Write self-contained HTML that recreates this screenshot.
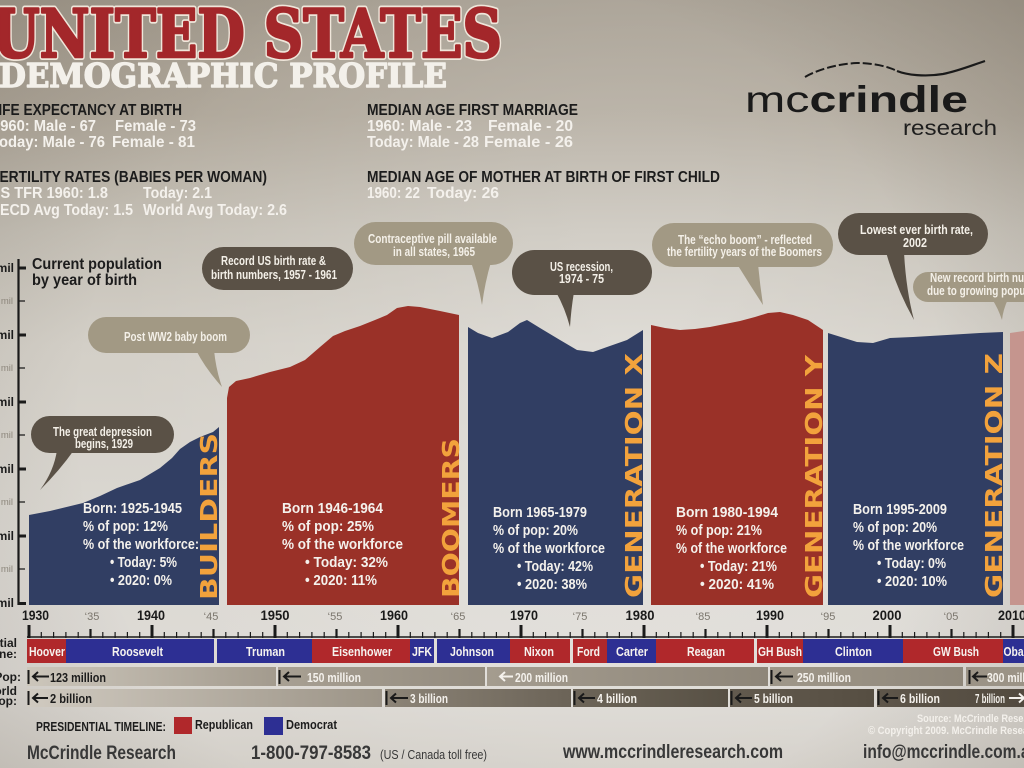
<!DOCTYPE html>
<html>
<head>
<meta charset="utf-8">
<style>
html,body{margin:0;padding:0;width:1024px;height:768px;overflow:hidden;background:#cfcac2;}
svg{display:block;}
.n{font-family:"Liberation Sans Narrow","Liberation Sans",sans-serif;font-weight:700;}
.r{font-family:"Liberation Sans Narrow","Liberation Sans",sans-serif;font-weight:400;}
.s{font-family:"DejaVu Serif","Liberation Serif",serif;font-weight:700;}
.g{font-family:"DejaVu Sans","Liberation Sans",sans-serif;font-weight:700;fill:#f2a23c;font-size:23px;}
.w{fill:#f4f1ec;}
.d{fill:#1c1c1c;}
</style>
</head>
<body>
<svg width="1024" height="768" viewBox="0 0 1024 768" xmlns="http://www.w3.org/2000/svg">
<defs>
<linearGradient id="bg" x1="0" y1="0" x2="0" y2="1">
<stop offset="0" stop-color="#a59d90"/>
<stop offset="0.15" stop-color="#b0a89b"/>
<stop offset="0.3" stop-color="#c5c0b6"/>
<stop offset="0.45" stop-color="#d3cfc7"/>
<stop offset="0.7" stop-color="#dbd8d2"/>
<stop offset="0.88" stop-color="#dedbd6"/>
<stop offset="1" stop-color="#d4d0c9"/>
</linearGradient>
<radialGradient id="hl" cx="640" cy="360" r="520" gradientUnits="userSpaceOnUse">
<stop offset="0" stop-color="#ffffff" stop-opacity="0.28"/>
<stop offset="1" stop-color="#ffffff" stop-opacity="0"/>
</radialGradient>
<radialGradient id="vg" cx="512" cy="420" r="720" gradientUnits="userSpaceOnUse">
<stop offset="0.6" stop-color="#3a3025" stop-opacity="0"/>
<stop offset="1" stop-color="#3a3025" stop-opacity="0.18"/>
</radialGradient>
<linearGradient id="p1" x1="0" x2="1"><stop offset="0" stop-color="#ccc6bb"/><stop offset="1" stop-color="#a39b8e"/></linearGradient>
<linearGradient id="p2" x1="0" x2="1"><stop offset="0" stop-color="#a8a093"/><stop offset="1" stop-color="#938b7e"/></linearGradient>
<linearGradient id="p3" x1="0" x2="1"><stop offset="0" stop-color="#a49c8f"/><stop offset="1" stop-color="#8e8679"/></linearGradient>
<linearGradient id="p4" x1="0" x2="1"><stop offset="0" stop-color="#9f9789"/><stop offset="1" stop-color="#8f877a"/></linearGradient>
<linearGradient id="w1" x1="0" x2="1"><stop offset="0" stop-color="#d0cac0"/><stop offset="1" stop-color="#9c9487"/></linearGradient>
<linearGradient id="w2" x1="0" x2="1"><stop offset="0" stop-color="#8c8477"/><stop offset="1" stop-color="#6b6357"/></linearGradient>
<linearGradient id="w3" x1="0" x2="1"><stop offset="0" stop-color="#6d6558"/><stop offset="1" stop-color="#575044"/></linearGradient>
<linearGradient id="w4" x1="0" x2="1"><stop offset="0" stop-color="#625a4e"/><stop offset="1" stop-color="#564e42"/></linearGradient>
<linearGradient id="w5" x1="0" x2="1"><stop offset="0" stop-color="#5e564a"/><stop offset="1" stop-color="#524a3f"/></linearGradient>
</defs>

<!-- background -->
<rect width="1024" height="768" fill="url(#bg)"/>
<rect width="1024" height="768" fill="url(#hl)"/>
<rect width="1024" height="768" fill="url(#vg)"/>

<!-- Title -->
<text class="s" x="-8" y="57" font-size="66" textLength="510" lengthAdjust="spacingAndGlyphs" fill="#efe6da" stroke="#efe6da" stroke-width="6" stroke-linejoin="round">UNITED STATES</text>
<text class="s" x="-8" y="57" font-size="66" textLength="510" lengthAdjust="spacingAndGlyphs" fill="#a3272a" stroke="#a3272a" stroke-width="2.6" stroke-linejoin="round">UNITED STATES</text>
<text class="s" x="-1" y="87" font-size="33" textLength="448" lengthAdjust="spacingAndGlyphs" fill="#f3f0ea" stroke="#f3f0ea" stroke-width="1.4" stroke-linejoin="round">DEMOGRAPHIC PROFILE</text>

<!-- Stats left -->
<g class="n" font-size="16">
<text class="d" x="-10" y="115" textLength="192" lengthAdjust="spacingAndGlyphs">LIFE EXPECTANCY AT BIRTH</text>
<text class="w" x="-8" y="131" textLength="104" lengthAdjust="spacingAndGlyphs">1960: Male - 67</text>
<text class="w" x="115" y="131" textLength="81" lengthAdjust="spacingAndGlyphs">Female - 73</text>
<text class="w" x="-9" y="147" textLength="114" lengthAdjust="spacingAndGlyphs">Today: Male - 76</text>
<text class="w" x="112" y="147" textLength="83" lengthAdjust="spacingAndGlyphs">Female - 81</text>
<text class="d" x="-9" y="182" textLength="276" lengthAdjust="spacingAndGlyphs">FERTILITY RATES (BABIES PER WOMAN)</text>
<text class="w" x="-10" y="198" textLength="118" lengthAdjust="spacingAndGlyphs">US TFR 1960: 1.8</text>
<text class="w" x="143" y="198" textLength="69" lengthAdjust="spacingAndGlyphs">Today: 2.1</text>
<text class="w" x="-11" y="215" textLength="144" lengthAdjust="spacingAndGlyphs">OECD Avg Today: 1.5</text>
<text class="w" x="143" y="215" textLength="144" lengthAdjust="spacingAndGlyphs">World Avg Today: 2.6</text>

<text class="d" x="367" y="115" textLength="211" lengthAdjust="spacingAndGlyphs">MEDIAN AGE FIRST MARRIAGE</text>
<text class="w" x="367" y="131" textLength="105" lengthAdjust="spacingAndGlyphs">1960: Male - 23</text>
<text class="w" x="488" y="131" textLength="85" lengthAdjust="spacingAndGlyphs">Female - 20</text>
<text class="w" x="367" y="147" textLength="112" lengthAdjust="spacingAndGlyphs">Today: Male - 28</text>
<text class="w" x="484" y="147" textLength="89" lengthAdjust="spacingAndGlyphs">Female - 26</text>
<text class="d" x="367" y="182" textLength="353" lengthAdjust="spacingAndGlyphs">MEDIAN AGE OF MOTHER AT BIRTH OF FIRST CHILD</text>
<text class="w" x="367" y="198" textLength="53" lengthAdjust="spacingAndGlyphs">1960: 22</text>
<text class="w" x="427" y="198" textLength="72" lengthAdjust="spacingAndGlyphs">Today: 26</text>
</g>

<!-- Logo -->
<path d="M805,77 C815,71 835,64 857,63 C872,63 887,66 897,71" fill="none" stroke="#1a1a1a" stroke-width="2" stroke-dasharray="9 3"/>
<path d="M897,71 C907,75 925,77 943,74 C958,71 970,66 985,61" fill="none" stroke="#1a1a1a" stroke-width="2.2"/>
<text x="745" y="112" font-family="Liberation Sans, sans-serif" font-size="37" fill="#1a1a1a" textLength="223" lengthAdjust="spacingAndGlyphs"><tspan font-weight="400">mc</tspan><tspan font-weight="700">crindle</tspan></text>
<text x="903" y="135" font-family="Liberation Sans, sans-serif" font-size="21" fill="#1e1e1e" textLength="94" lengthAdjust="spacingAndGlyphs">research</text>

<!-- Y axis -->
<g fill="none" stroke="#1a1a1a">
<path d="M18.5,259 V605" stroke-width="2.2"/>
<path d="M18,268 H26 M18,335 H26 M18,402 H26 M18,469 H26 M18,536 H26 M18,603.5 H26" stroke-width="3"/>
<path d="M18,301 H25 M18,368 H25 M18,435 H25 M18,502 H25 M18,569 H25" stroke-width="1.3"/>
</g>
<g class="n" font-size="12" text-anchor="end" fill="#1c1c1c">
<text x="14" y="272">mil</text><text x="14" y="339">mil</text><text x="14" y="406">mil</text><text x="14" y="473">mil</text><text x="14" y="540">mil</text><text x="14" y="607">mil</text>
</g>
<g class="r" font-size="9.5" text-anchor="end" fill="#8d877c">
<text x="13" y="304">mil</text><text x="13" y="371">mil</text><text x="13" y="438">mil</text><text x="13" y="505">mil</text><text x="13" y="572">mil</text>
</g>
<text class="n d" x="32" y="269" font-size="16" textLength="130" lengthAdjust="spacingAndGlyphs">Current population</text>
<text class="n d" x="32" y="285" font-size="16" textLength="105" lengthAdjust="spacingAndGlyphs">by year of birth</text>

<!-- Chart bars -->
<path d="M29,605 L29,515 L50,511 L83,503 L100,496 L117,488 L140,480 L160,468 L172,458 L180,449 L190,442 L200,437 L213,432 L219,427 L219,605 Z" fill="#313e63"/>
<path d="M227,605 L227,398 L229,387 L236,381 L250,378 L270,372 L290,367 L305,360 L320,347 L333,336 L345,331 L360,326 L375,320 L387,315 L397,308 L408,306 L420,307 L440,311 L459,315 L459,605 Z" fill="#9a3128"/>
<path d="M468,605 L468,327 L478,333 L492,338 L508,332 L520,323 L527,320 L540,328 L560,340 L577,350 L593,352 L607,347 L627,340 L643,330 L643,605 Z" fill="#313e63"/>
<path d="M651,605 L651,325 L665,328 L680,330 L695,329 L710,327 L725,324 L740,321 L755,317 L768,313 L780,312 L793,315 L808,320 L823,330 L823,605 Z" fill="#9a3128"/>
<path d="M828,605 L828,333 L857,342 L873,343 L890,338 L913,337 L947,335 L980,333 L1003,332 L1003,605 Z" fill="#313e63"/>
<path d="M1010,605 L1010,333 L1024,331 L1024,605 Z" fill="#c5958e"/>

<!-- Generation labels -->
<text class="g" transform="translate(217,600) rotate(-90)" textLength="167" lengthAdjust="spacingAndGlyphs">BUILDERS</text>
<text class="g" transform="translate(459,598) rotate(-90)" textLength="160" lengthAdjust="spacingAndGlyphs">BOOMERS</text>
<text class="g" transform="translate(642,598) rotate(-90)" textLength="245" lengthAdjust="spacingAndGlyphs">GENERATION X</text>
<text class="g" transform="translate(822,598) rotate(-90)" textLength="243" lengthAdjust="spacingAndGlyphs">GENERATION Y</text>
<text class="g" transform="translate(1002,598) rotate(-90)" textLength="245" lengthAdjust="spacingAndGlyphs">GENERATION Z</text>

<!-- Bar texts -->
<g class="n w" font-size="14.5">
<text x="83" y="513" textLength="99" lengthAdjust="spacingAndGlyphs">Born: 1925-1945</text>
<text x="83" y="531" textLength="85" lengthAdjust="spacingAndGlyphs">% of pop: 12%</text>
<text x="83" y="549" textLength="116" lengthAdjust="spacingAndGlyphs">% of the workforce:</text>
<text x="110" y="567" textLength="67" lengthAdjust="spacingAndGlyphs">• Today: 5%</text>
<text x="110" y="585" textLength="62" lengthAdjust="spacingAndGlyphs">• 2020: 0%</text>

<text x="282" y="513" textLength="101" lengthAdjust="spacingAndGlyphs">Born 1946-1964</text>
<text x="282" y="531" textLength="92" lengthAdjust="spacingAndGlyphs">% of pop: 25%</text>
<text x="282" y="549" textLength="121" lengthAdjust="spacingAndGlyphs">% of the workforce</text>
<text x="305" y="567" textLength="83" lengthAdjust="spacingAndGlyphs">• Today: 32%</text>
<text x="305" y="585" textLength="72" lengthAdjust="spacingAndGlyphs">• 2020: 11%</text>

<text x="493" y="517" textLength="94" lengthAdjust="spacingAndGlyphs">Born 1965-1979</text>
<text x="493" y="535" textLength="85" lengthAdjust="spacingAndGlyphs">% of pop: 20%</text>
<text x="493" y="553" textLength="112" lengthAdjust="spacingAndGlyphs">% of the workforce</text>
<text x="517" y="571" textLength="76" lengthAdjust="spacingAndGlyphs">• Today: 42%</text>
<text x="517" y="589" textLength="70" lengthAdjust="spacingAndGlyphs">• 2020: 38%</text>

<text x="676" y="517" textLength="102" lengthAdjust="spacingAndGlyphs">Born 1980-1994</text>
<text x="676" y="535" textLength="86" lengthAdjust="spacingAndGlyphs">% of pop: 21%</text>
<text x="676" y="553" textLength="111" lengthAdjust="spacingAndGlyphs">% of the workforce</text>
<text x="700" y="571" textLength="77" lengthAdjust="spacingAndGlyphs">• Today: 21%</text>
<text x="700" y="589" textLength="74" lengthAdjust="spacingAndGlyphs">• 2020: 41%</text>

<text x="853" y="514" textLength="94" lengthAdjust="spacingAndGlyphs">Born 1995-2009</text>
<text x="853" y="532" textLength="84" lengthAdjust="spacingAndGlyphs">% of pop: 20%</text>
<text x="853" y="550" textLength="111" lengthAdjust="spacingAndGlyphs">% of the workforce</text>
<text x="877" y="568" textLength="69" lengthAdjust="spacingAndGlyphs">• Today: 0%</text>
<text x="877" y="586" textLength="70" lengthAdjust="spacingAndGlyphs">• 2020: 10%</text>
</g>

<!-- Speech bubbles -->
<g fill="#5a5146">
<rect x="31" y="416" width="143" height="37" rx="18.5"/>
<path d="M57,450 Q54,471 40,490 Q60,470 74,450 Z"/>
<rect x="202" y="247" width="151" height="43" rx="21.5"/>
<rect x="512" y="250" width="140" height="45" rx="22.5"/>
<path d="M556,292 L574,292 Q571,310 570,327 Q565,308 556,292 Z"/>
<rect x="838" y="213" width="150" height="42" rx="21"/>
<path d="M886,252 L904,252 Q906,290 914,320 Q896,288 886,252 Z"/>
</g>
<g fill="#a29984">
<rect x="88" y="317" width="162" height="36" rx="18"/>
<path d="M196,350 L214,350 Q216,370 222,387 Q205,368 196,350 Z"/>
<rect x="354" y="222" width="159" height="43" rx="21.5"/>
<path d="M471,262 L491,262 Q485,282 482,305 Q478,282 471,262 Z"/>
<rect x="652" y="223" width="181" height="44" rx="22"/>
<path d="M737,264 L758,264 Q760,285 763,305 Q750,285 737,264 Z"/>
<rect x="913" y="272" width="140" height="30" rx="15"/>
<path d="M992,299 L1008,299 Q1003,310 1002,320 Q998,308 992,299 Z"/>
</g>
<g class="n" font-size="12.5" fill="#f4f0e8" text-anchor="middle">
<text x="102.5" y="436" textLength="99" lengthAdjust="spacingAndGlyphs">The great depression</text>
<text x="104" y="448" textLength="58" lengthAdjust="spacingAndGlyphs">begins, 1929</text>
<text x="175.5" y="341" textLength="103" lengthAdjust="spacingAndGlyphs">Post WW2 baby boom</text>
<text x="273.5" y="265" textLength="105" lengthAdjust="spacingAndGlyphs">Record US birth rate &amp;</text>
<text x="274" y="279" textLength="126" lengthAdjust="spacingAndGlyphs">birth numbers, 1957 - 1961</text>
<text x="432.5" y="243" textLength="129" lengthAdjust="spacingAndGlyphs">Contraceptive pill available</text>
<text x="434" y="256" textLength="82" lengthAdjust="spacingAndGlyphs">in all states, 1965</text>
<text x="581.5" y="271" textLength="63" lengthAdjust="spacingAndGlyphs">US recession,</text>
<text x="581.5" y="283" textLength="45" lengthAdjust="spacingAndGlyphs">1974 - 75</text>
<text x="745" y="244" textLength="134" lengthAdjust="spacingAndGlyphs">The “echo boom” - reflected</text>
<text x="744.5" y="256" textLength="155" lengthAdjust="spacingAndGlyphs">the fertility years of the Boomers</text>
<text x="916.5" y="234" textLength="113" lengthAdjust="spacingAndGlyphs">Lowest ever birth rate,</text>
<text x="915" y="247" textLength="24" lengthAdjust="spacingAndGlyphs">2002</text>
</g>
<g class="n" font-size="12.5" fill="#f4f0e8">
<text x="930" y="282" textLength="124" lengthAdjust="spacingAndGlyphs">New record birth numbers</text>
<text x="927" y="295" textLength="125" lengthAdjust="spacingAndGlyphs">due to growing population</text>
</g>

<!-- Year labels -->
<g class="n" font-size="14" fill="#1a1a1a" text-anchor="middle">
<text x="35.5" y="620" textLength="27" lengthAdjust="spacingAndGlyphs">1930</text>
<text x="151" y="620" textLength="28" lengthAdjust="spacingAndGlyphs">1940</text>
<text x="275" y="620" textLength="29" lengthAdjust="spacingAndGlyphs">1950</text>
<text x="394" y="620" textLength="28" lengthAdjust="spacingAndGlyphs">1960</text>
<text x="524" y="620" textLength="28" lengthAdjust="spacingAndGlyphs">1970</text>
<text x="640" y="620" textLength="29" lengthAdjust="spacingAndGlyphs">1980</text>
<text x="770" y="620" textLength="28" lengthAdjust="spacingAndGlyphs">1990</text>
<text x="887" y="620" textLength="29" lengthAdjust="spacingAndGlyphs">2000</text>
<text x="1012" y="620" textLength="28" lengthAdjust="spacingAndGlyphs">2010</text>
</g>
<g class="r" font-size="11" fill="#7b766d" text-anchor="middle">
<text x="92" y="620">‘35</text><text x="211" y="620">‘45</text><text x="335" y="620">‘55</text><text x="458" y="620">‘65</text>
<text x="580" y="620">‘75</text><text x="703" y="620">‘85</text><text x="828" y="620">‘95</text><text x="951" y="620">‘05</text>
</g>

<!-- Ruler -->
<g stroke="#1a1a1a" fill="none">
<path d="M27,637 H1024" stroke-width="1.6"/>
<path d="M29,625 V638 M152,625 V638 M275,625 V638 M398,625 V638 M521,625 V638 M644,625 V638 M767,625 V638 M890,625 V638 M1013,625 V638" stroke-width="3"/>
<path d="M90.5,629 V638 M213.5,629 V638 M336.5,629 V638 M459.5,629 V638 M582.5,629 V638 M705.5,629 V638 M828.5,629 V638 M951.5,629 V638" stroke-width="2.2"/>
<path d="M41.3,632V638M53.6,632V638M65.9,632V638M78.2,632V638M102.8,632V638M115.1,632V638M127.4,632V638M139.7,632V638M164.3,632V638M176.6,632V638M188.9,632V638M201.2,632V638M225.8,632V638M238.1,632V638M250.4,632V638M262.7,632V638M287.3,632V638M299.6,632V638M311.9,632V638M324.2,632V638M348.8,632V638M361.1,632V638M373.4,632V638M385.7,632V638M410.3,632V638M422.6,632V638M434.9,632V638M447.2,632V638M471.8,632V638M484.1,632V638M496.4,632V638M508.7,632V638M533.3,632V638M545.6,632V638M557.9,632V638M570.2,632V638M594.8,632V638M607.1,632V638M619.4,632V638M631.7,632V638M656.3,632V638M668.6,632V638M680.9,632V638M693.2,632V638M717.8,632V638M730.1,632V638M742.4,632V638M754.7,632V638M779.3,632V638M791.6,632V638M803.9,632V638M816.2,632V638M840.8,632V638M853.1,632V638M865.4,632V638M877.7,632V638M902.3,632V638M914.6,632V638M926.9,632V638M939.2,632V638M963.8,632V638M976.1,632V638M988.4,632V638M1000.7,632V638" stroke-width="1.2"/>
</g>

<!-- Left row labels -->
<g class="n" font-size="12" fill="#1c1c1c" text-anchor="end">
<text x="17" y="647">Presidential</text>
<text x="17" y="658">timeline:</text>
<text x="21" y="681">US Pop:</text>
<text x="17" y="695">World</text>
<text x="17" y="705">pop:</text>
</g>

<!-- Presidential timeline -->
<g>
<rect x="27" y="639" width="39" height="24" fill="#b0282b"/>
<rect x="66" y="639" width="148" height="24" fill="#2d2f93"/>
<rect x="217" y="639" width="95" height="24" fill="#2d2f93"/>
<rect x="312" y="639" width="98" height="24" fill="#b0282b"/>
<rect x="410" y="639" width="24" height="24" fill="#2d2f93"/>
<rect x="437" y="639" width="73" height="24" fill="#2d2f93"/>
<rect x="510" y="639" width="60" height="24" fill="#b0282b"/>
<rect x="573" y="639" width="34" height="24" fill="#b0282b"/>
<rect x="607" y="639" width="49" height="24" fill="#2d2f93"/>
<rect x="656" y="639" width="98" height="24" fill="#b0282b"/>
<rect x="757" y="639" width="46" height="24" fill="#b0282b"/>
<rect x="803" y="639" width="100" height="24" fill="#2d2f93"/>
<rect x="903" y="639" width="100" height="24" fill="#b0282b"/>
<rect x="1003" y="639" width="21" height="24" fill="#2d2f93"/>
</g>
<g class="n" font-size="13" fill="#f6f3ef" text-anchor="middle">
<text x="47" y="656" textLength="36" lengthAdjust="spacingAndGlyphs">Hoover</text>
<text x="137.5" y="656" textLength="51" lengthAdjust="spacingAndGlyphs">Roosevelt</text>
<text x="265.5" y="656" textLength="39" lengthAdjust="spacingAndGlyphs">Truman</text>
<text x="362" y="656" textLength="60" lengthAdjust="spacingAndGlyphs">Eisenhower</text>
<text x="422" y="656" textLength="20" lengthAdjust="spacingAndGlyphs">JFK</text>
<text x="472" y="656" textLength="44" lengthAdjust="spacingAndGlyphs">Johnson</text>
<text x="539" y="656" textLength="30" lengthAdjust="spacingAndGlyphs">Nixon</text>
<text x="588.5" y="656" textLength="23" lengthAdjust="spacingAndGlyphs">Ford</text>
<text x="632" y="656" textLength="32" lengthAdjust="spacingAndGlyphs">Carter</text>
<text x="706" y="656" textLength="38" lengthAdjust="spacingAndGlyphs">Reagan</text>
<text x="780" y="656" textLength="44" lengthAdjust="spacingAndGlyphs">GH Bush</text>
<text x="853.5" y="656" textLength="37" lengthAdjust="spacingAndGlyphs">Clinton</text>
<text x="956" y="656" textLength="46" lengthAdjust="spacingAndGlyphs">GW Bush</text>
<text x="1021" y="656" textLength="35" lengthAdjust="spacingAndGlyphs">Obama</text>
</g>

<!-- US Pop row -->
<rect x="27" y="667" width="249" height="19" fill="url(#p1)"/>
<rect x="278" y="667" width="207" height="19" fill="url(#p2)"/>
<rect x="487" y="667" width="281" height="19" fill="url(#p3)"/>
<rect x="770" y="667" width="193" height="19" fill="url(#p4)"/>
<rect x="966" y="667" width="58" height="19" fill="#9b9386"/>
<!-- World row -->
<rect x="27" y="689" width="355" height="18" fill="url(#w1)"/>
<rect x="385" y="689" width="186" height="18" fill="url(#w2)"/>
<rect x="573" y="689" width="155" height="18" fill="url(#w3)"/>
<rect x="730" y="689" width="144" height="18" fill="url(#w4)"/>
<rect x="877" y="689" width="147" height="18" fill="url(#w5)"/>

<!-- arrows -->
<g fill="none" stroke-width="2">
<g stroke="#1a1a1a">
<path d="M28.5,670 V684 M33,676.5 H49 M38,672 L33,676.5 L38,681"/>
<path d="M28.5,691 V705 M33,698 H48 M38,693.5 L33,698 L38,702.5"/>
<path d="M279.5,670 V684 M284,676.5 H301 M289,672 L284,676.5 L289,681"/>
<path d="M771.5,670 V684 M776,676.5 H793 M781,672 L776,676.5 L781,681"/>
<path d="M969.5,670 V684 M973,676.5 H987 M978,672 L973,676.5 L978,681"/>
<path d="M386.5,691 V705 M391,698 H408 M396,693.5 L391,698 L396,702.5"/>
<path d="M574.5,691 V705 M579,698 H595 M584,693.5 L579,698 L584,702.5"/>
<path d="M731.5,691 V705 M736,698 H752 M741,693.5 L736,698 L741,702.5"/>
<path d="M878.5,691 V705 M883,698 H898 M888,693.5 L883,698 L888,702.5"/>
</g>
<g stroke="#f4f1ec">
<path d="M500,676.5 H513 M505,672 L500,676.5 L505,681"/>
<path d="M1009,698 H1024 M1019,693.5 L1024,698 L1019,702.5"/>
</g>
</g>
<g class="n" font-size="13">
<text x="50" y="682" fill="#1c1c1c" textLength="56" lengthAdjust="spacingAndGlyphs">123 million</text>
<text x="307" y="682" fill="#f4f1ec" textLength="54" lengthAdjust="spacingAndGlyphs">150 million</text>
<text x="515" y="682" fill="#f4f1ec" textLength="53" lengthAdjust="spacingAndGlyphs">200 million</text>
<text x="797" y="682" fill="#f4f1ec" textLength="54" lengthAdjust="spacingAndGlyphs">250 million</text>
<text x="987" y="682" fill="#f4f1ec" textLength="54" lengthAdjust="spacingAndGlyphs">300 million</text>
<text x="50" y="703" fill="#1c1c1c" textLength="42" lengthAdjust="spacingAndGlyphs">2 billion</text>
<text x="410" y="703" fill="#f4f1ec" textLength="38" lengthAdjust="spacingAndGlyphs">3 billion</text>
<text x="597" y="703" fill="#f4f1ec" textLength="40" lengthAdjust="spacingAndGlyphs">4 billion</text>
<text x="754" y="703" fill="#f4f1ec" textLength="39" lengthAdjust="spacingAndGlyphs">5 billion</text>
<text x="900" y="703" fill="#f4f1ec" textLength="40" lengthAdjust="spacingAndGlyphs">6 billion</text>
<text x="975" y="703" fill="#f4f1ec" textLength="30" lengthAdjust="spacingAndGlyphs">7 billion</text>
</g>

<!-- Legend -->
<text class="n d" x="36" y="731" font-size="13" textLength="130" lengthAdjust="spacingAndGlyphs">PRESIDENTIAL TIMELINE:</text>
<rect x="174" y="717" width="18" height="17" fill="#b0282b"/>
<text class="n d" x="195" y="729" font-size="13" textLength="58" lengthAdjust="spacingAndGlyphs">Republican</text>
<rect x="264" y="717" width="19" height="18" fill="#2d2f93"/>
<text class="n d" x="286" y="729" font-size="13" textLength="51" lengthAdjust="spacingAndGlyphs">Democrat</text>

<!-- Source -->
<g class="n" font-size="11" fill="#f3f0eb">
<text x="917" y="722" textLength="126" lengthAdjust="spacingAndGlyphs">Source: McCrindle Research</text>
<text x="868" y="734" textLength="175" lengthAdjust="spacingAndGlyphs">© Copyright 2009. McCrindle Research</text>
</g>

<!-- Footer -->
<g class="n" font-size="19" fill="#383838">
<text x="27" y="759" textLength="149" lengthAdjust="spacingAndGlyphs">McCrindle Research</text>
<text x="251" y="759" textLength="120" lengthAdjust="spacingAndGlyphs">1-800-797-8583</text>
<text x="563" y="758" textLength="220" lengthAdjust="spacingAndGlyphs">www.mccrindleresearch.com</text>
<text x="863" y="758" textLength="176" lengthAdjust="spacingAndGlyphs">info@mccrindle.com.au</text>
</g>
<text class="r" x="380" y="759" font-size="12.5" fill="#383838" textLength="107" lengthAdjust="spacingAndGlyphs">(US / Canada toll free)</text>
</svg>
</body>
</html>
